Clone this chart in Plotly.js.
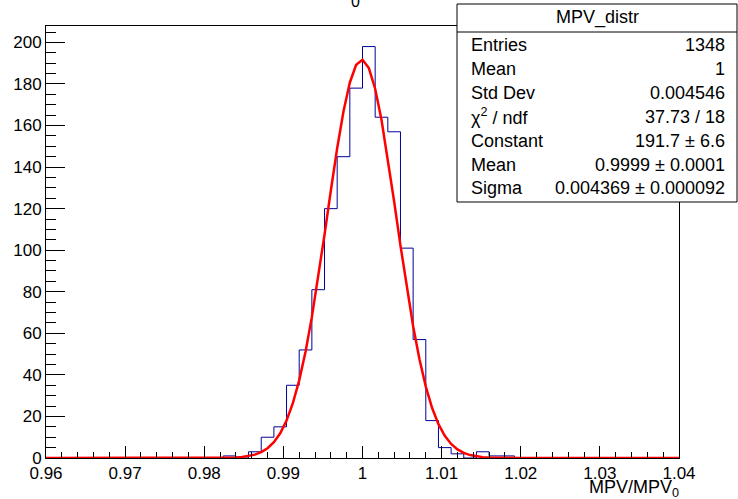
<!DOCTYPE html>
<html>
<head>
<meta charset="utf-8">
<script src="https://cdn.plot.ly/plotly-3.0.1.min.js"></script>
<style>
html,body{margin:0;padding:0;background:#fff;}
#chart{width:738px;height:499px;}
</style>
</head>
<body>
<div id="chart"></div>
<script>
// ---------- data ----------
const histName = "MPV_distr";
const binLow = 0.96;
const binHigh = 1.04;
const binCounts = [
  0,0,0,0,0,0,0,0,0,0,
  0,0,0,0,1,0,3,10,15,35,
  52,81,120,145,178,198,164,157,101,57,
  18,5,2,0,3,1,1,0,0,0,
  0,0,0,0,0,0,0,0,0,0
];
const fitX = [0.96,0.97,0.98,0.9832,
  0.9840,0.9848,0.9856,0.9864,0.9872,0.9880,0.9888,0.9896,0.9904,0.9912,
  0.9920,0.9928,0.9936,0.9944,0.9952,0.9960,0.9968,0.9976,0.9984,0.9992,
  1.0000,1.0008,1.0016,1.0024,1.0032,1.0040,1.0048,1.0056,1.0064,1.0072,
  1.0080,1.0088,1.0096,1.0104,1.0112,1.0120,1.0128,1.0136,1.0144,1.0152,1.0160,
  1.0168,1.02,1.03,1.04];
const fitY = [0,0,0.01,0.13,
  0.26,0.49,0.90,1.62,2.80,4.70,7.60,11.90,18.03,26.39,
  37.38,51.18,67.78,86.80,107.47,128.71,149.05,166.89,180.73,189.26,
  191.65,187.67,177.73,162.75,144.12,123.42,102.21,81.84,63.38,47.47,
  34.37,24.07,16.30,10.68,6.76,4.14,2.45,1.40,0.78,0.42,0.22,
  0.11,0.01,0,0];
const xTickVals = [0.96,0.97,0.98,0.99,1.00,1.01,1.02,1.03,1.04];
const xTickLabels = ["0.96","0.97","0.98","0.99","1","1.01","1.02","1.03","1.04"];
const yTickVals = [0,20,40,60,80,100,120,140,160,180,200];
const yTickLabels = ["0","20","40","60","80","100","120","140","160","180","200"];
const statLabels = ["Entries","Mean","Std Dev","χ<sup>2</sup> / ndf","Constant","Mean","Sigma"];
const statValues = ["1348","1","0.004546","37.73 / 18","191.7 ± 6.6","0.9999 ± 0.0001","0.004369 ± 0.000092"];
const xTitle = "MPV/MPV<sub>0</sub>";

// ---------- build histogram step line ----------
const nb = binCounts.length;
const bw = (binHigh - binLow) / nb;
const hx = [], hy = [];
for (let i = 0; i <= nb; i++) {
  hx.push(binLow + i * bw);
  hy.push(i < nb ? binCounts[i] : binCounts[nb - 1]);
}

// ---------- geometry helpers ----------
const W = 738, H = 499, L = 46, R = 59, T = 26, B = 41;
const pw = W - L - R, ph = H - T - B;
const px = x => (x - L) / pw;
const py = y => (T + ph - y) / ph;

const FONT = "Liberation Sans, Arial, Helvetica, sans-serif";

const traces = [
  {x: hx, y: hy, type: 'scatter', mode: 'lines',
   line: {shape: 'hv', color: '#000099', width: 1}, hoverinfo: 'skip'},
  {x: fitX, y: fitY, type: 'scatter', mode: 'lines',
   line: {color: '#ff0000', width: 2.5}, hoverinfo: 'skip', cliponaxis: false}
];

const annotations = [];
annotations.push({xref:'paper', yref:'paper', x: px(597), y: py(18), xanchor:'center', yanchor:'middle',
  text: histName, showarrow:false, font:{family:FONT, size:18, color:'#000'}});
for (let i = 0; i < statLabels.length; i++) {
  const yc = 45.5 + 23.8 * i;
  annotations.push({xref:'paper', yref:'paper', x: px(469), y: py(yc), xanchor:'left', yanchor:'middle',
    text: statLabels[i], showarrow:false, font:{family:FONT, size:18, color:'#000'}});
  annotations.push({xref:'paper', yref:'paper', x: px(727), y: py(yc), xanchor:'right', yanchor:'middle',
    text: statValues[i], showarrow:false, font:{family:FONT, size:18, color:'#000'}});
}
annotations.push({xref:'paper', yref:'paper', x: px(681), y: py(488), xanchor:'right', yanchor:'middle',
  text: xTitle, showarrow:false, font:{family:FONT, size:18, color:'#000'}});
annotations.push({xref:'paper', yref:'paper', x: px(355), y: py(2), xanchor:'center', yanchor:'middle',
  text: "0", showarrow:false, font:{family:FONT, size:16, color:'#000'}});

const shapes = [
  {type:'rect', xref:'paper', yref:'paper', x0: px(457), x1: px(737), y0: py(202), y1: py(4),
   line:{color:'#000', width:1}, fillcolor:'#fff', layer:'above'},
  {type:'line', xref:'paper', yref:'paper', x0: px(457), x1: px(737), y0: py(32), y1: py(32),
   line:{color:'#000', width:1}, layer:'above'}
];

const layout = {
  width: W, height: H,
  margin: {l: L, r: R, t: T, b: B, pad: 0},
  paper_bgcolor: '#fff', plot_bgcolor: '#fff',
  showlegend: false,
  font: {family: FONT, size: 17, color: '#000'},
  xaxis: {
    range: [binLow, binHigh], showgrid: false, zeroline: false,
    showline: true, linecolor: '#000', linewidth: 1, mirror: true,
    ticks: 'inside', ticklen: 12, tickcolor: '#000', tickwidth: 1,
    tickmode: 'array', tickvals: xTickVals, ticktext: xTickLabels,
    tickfont: {family: FONT, size: 17, color: '#000'},
    minor: {dtick: 0.002, tick0: 0.96, ticks: 'inside', ticklen: 6, tickcolor: '#000', showgrid: false}
  },
  yaxis: {
    range: [0, 207.9], showgrid: false, zeroline: false,
    showline: true, linecolor: '#000', linewidth: 1, mirror: true,
    ticks: 'inside', ticklen: 19, tickcolor: '#000', tickwidth: 1,
    tickmode: 'array', tickvals: yTickVals, ticktext: yTickLabels,
    tickfont: {family: FONT, size: 17, color: '#000'},
    minor: {dtick: 5, tick0: 0, ticks: 'inside', ticklen: 9.5, tickcolor: '#000', showgrid: false}
  },
  shapes: shapes,
  annotations: annotations
};

Plotly.newPlot('chart', traces, layout, {staticPlot: true, displayModeBar: false});
</script>
</body>
</html>
